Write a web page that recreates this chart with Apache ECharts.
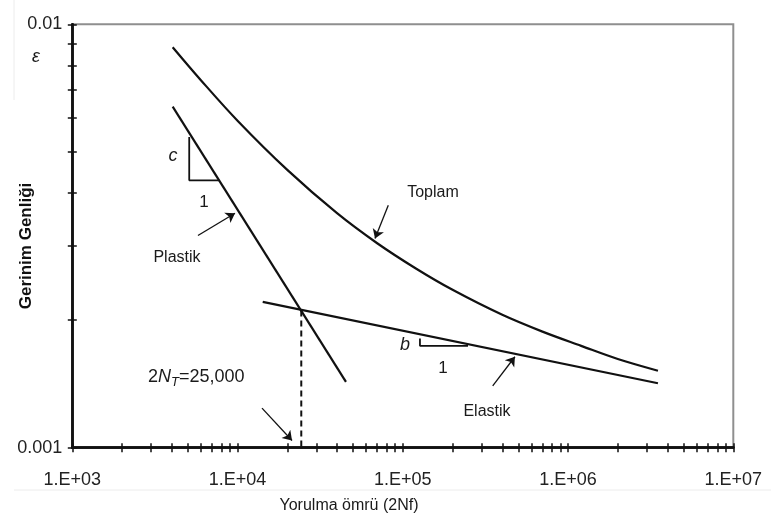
<!DOCTYPE html>
<html><head><meta charset="utf-8">
<script src="https://cdn.jsdelivr.net/npm/echarts@6/dist/echarts.min.js"></script>
<style>html,body{margin:0;padding:0;background:#fff}#c{width:771px;height:516px}</style>
</head><body><div id="c"></div>
<script>
// ---- data ----
const toplamX = [4050, 6000, 10000, 20000, 40000, 70000, 120000, 200000, 400000, 700000, 1200000, 2000000, 3500000];
const toplamY = [0.00883, 0.00738, 0.00592, 0.00453, 0.00358, 0.00304, 0.00265, 0.00236, 0.00206, 0.00188, 0.00174, 0.00162, 0.00152];
const plastikX = [4050, 45300];
const plastikY = [0.00639, 0.00143];
const elastikX = [14200, 3500000];
const elastikY = [0.00221, 0.00142];
const transitionX = [24300, 24300];
const transitionY = [0.00211, 0.001];
const cTriX = [5100, 5100, 7750];
const cTriY = [0.00542, 0.00428, 0.00428];
const bTriX = [127000, 127000, 248000];
const bTriY = [0.00181, 0.00174, 0.00174];
// arrows: [fromX, fromY, toX, toY]
const arrowToplam = [81700, 0.00374, 67900, 0.00312];
const arrowPlastik = [5760, 0.00317, 9650, 0.00358];
const arrowElastik = [350000, 0.00140, 477000, 0.00164];
const arrowNT = [14060, 0.00124, 21360, 0.00104];
const xLabelValues = [1000, 10000, 100000, 1000000, 10000000];
const yLabelValues = [0.001, 0.01];
const xMinorTicks = [];
for (let e = 3; e < 7; e++) for (let m = 1; m < 10; m++) xMinorTicks.push(m * Math.pow(10, e));
xMinorTicks.push(10000000);
const yMinorTicks = [0.001, 0.002, 0.003, 0.004, 0.005, 0.006, 0.007, 0.008, 0.009, 0.01];

const FONT = '"Liberation Sans", Arial, sans-serif';
const zip = (xs, ys) => xs.map((x, i) => [x, ys[i]]);
const ink = '#111';

function xAxisDef(inside, showLabel) {
  return {
    type: 'log', logBase: 10, min: 1000, max: 10000000, position: 'bottom',
    axisLine: { show: true, lineStyle: { color: ink, width: 2.5 } },
    axisTick: { show: true, inside: inside, length: 4.5, customValues: xMinorTicks, lineStyle: { color: ink, width: 1.5 } },
    axisLabel: {
      show: showLabel, customValues: xLabelValues, margin: 23, fontSize: 18, color: '#222', fontFamily: FONT,
      formatter: v => '1.E+0' + Math.round(Math.log10(v))
    },
    splitLine: { show: false }
  };
}
function yAxisDef(inside, showLabel) {
  return {
    type: 'log', logBase: 10, min: 0.001, max: 0.01, position: 'left',
    axisLine: { show: true, lineStyle: { color: ink, width: 2.5 } },
    axisTick: { show: true, inside: inside, length: 4.5, customValues: yMinorTicks, lineStyle: { color: ink, width: 1.5 } },
    axisLabel: {
      show: showLabel, customValues: yLabelValues, margin: 10, fontSize: 18, color: '#222', fontFamily: FONT,
      formatter: v => (v < 0.005 ? '0.001' : '0.01')
    },
    splitLine: { show: false }
  };
}
function arrow(a) { return { coords: [[a[0], a[1]], [a[2], a[3]]] }; }
function lineSeries(data, extra) {
  return Object.assign({
    type: 'line', data: data, showSymbol: false, symbol: 'none', silent: true,
    lineStyle: { color: ink, width: 2.2 }, z: 3
  }, extra || {});
}
function txt(x, y, text, size, extra) {
  return Object.assign({
    type: 'text', x: x, y: y, silent: true,
    style: Object.assign({ text: text, fill: '#1a1a1a', font: size + 'px ' + FONT, textAlign: 'center', textVerticalAlign: 'middle', verticalAlign: 'middle' }, (extra && extra.style) || {})
  }, extra ? { rotation: extra.rotation || 0 } : {});
}

const chart = echarts.init(document.getElementById('c'), null, { renderer: 'canvas' });
chart.setOption({
  animation: false,
  backgroundColor: '#fff',
  grid: { left: 72.3, right: 37.7, top: 24.3, bottom: 68.3, show: true, borderColor: '#8f8f8f', borderWidth: 2, backgroundColor: 'transparent' },
  xAxis: [xAxisDef(true, true), xAxisDef(false, false)],
  yAxis: [yAxisDef(true, true), yAxisDef(false, false)],
  series: [
    lineSeries(zip(toplamX, toplamY), { smooth: 0.35 }),
    lineSeries(zip(plastikX, plastikY)),
    lineSeries(zip(elastikX, elastikY)),
    lineSeries(zip(transitionX, transitionY), { lineStyle: { color: ink, width: 2, type: [6, 4] } }),
    lineSeries(zip(cTriX, cTriY), { lineStyle: { color: ink, width: 1.8 } }),
    lineSeries(zip(bTriX, bTriY), { lineStyle: { color: ink, width: 1.8 } }),
    {
      type: 'lines', coordinateSystem: 'cartesian2d', silent: true, z: 4,
      symbol: ['none', 'arrow'], symbolSize: [0, 9],
      lineStyle: { color: ink, width: 1.3, opacity: 1, curveness: 0 },
      data: [arrow(arrowToplam), arrow(arrowPlastik), arrow(arrowElastik), arrow(arrowNT)]
    }
  ],
  graphic: [
    { type: 'line', silent: true, shape: { x1: 14, y1: 0, x2: 14, y2: 100 }, style: { stroke: '#ececec', lineWidth: 1 } },
    { type: 'line', silent: true, shape: { x1: 14, y1: 490, x2: 771, y2: 490 }, style: { stroke: '#ececec', lineWidth: 1 } },
    txt(36, 57, 'ε', 18, { style: { font: 'italic 18px ' + FONT } }),
    txt(26, 246, 'Gerinim Genliği', 17, { rotation: Math.PI / 2, style: { font: 'bold 17px ' + FONT, fill: '#111' } }),
    txt(349, 506, 'Yorulma ömrü (2Nf)', 16),
    txt(433, 193, 'Toplam', 16),
    txt(177, 258, 'Plastik', 16),
    txt(487, 412, 'Elastik', 16),
    txt(173, 156, 'c', 18, { style: { font: 'italic 18px ' + FONT } }),
    txt(204, 202, '1', 17),
    txt(405, 345, 'b', 18, { style: { font: 'italic 18px ' + FONT } }),
    txt(443, 368, '1', 17),
    {
      type: 'text', x: 148, y: 377, silent: true,
      style: {
        text: '{a|2}{i|N}{s|T}{a|=25,000}', textAlign: 'left', textVerticalAlign: 'middle', verticalAlign: 'middle',
        rich: {
          a: { font: '18px ' + FONT, fill: '#1a1a1a' },
          i: { font: 'italic 18px ' + FONT, fill: '#1a1a1a' },
          s: { font: 'italic 13px ' + FONT, fill: '#1a1a1a', padding: [10, 0, 0, 0] }
        }
      }
    }
  ]
});
</script>
</body></html>
